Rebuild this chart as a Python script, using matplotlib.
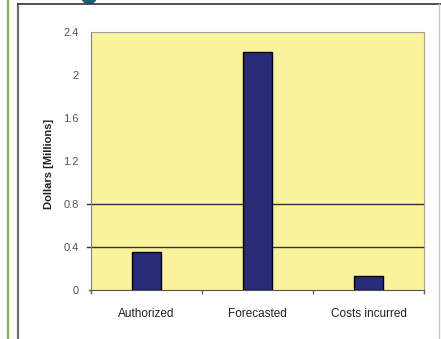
import matplotlib
matplotlib.use("Agg")
import matplotlib.pyplot as plt
from matplotlib.patches import Circle
from matplotlib.lines import Line2D

plt.rcParams['font.family'] = ['Liberation Sans', 'DejaVu Sans']

categories = ["Authorized", "Forecasted", "Costs incurred"]
values = [0.355, 2.21, 0.13]
yticks = [0, 0.4, 0.8, 1.2, 1.6, 2, 2.4]
ytick_labels = ["0", "0.4", "0.8", "1.2", "1.6", "2", "2.4"]
grid_levels = [0.4, 0.8]

fig = plt.figure(figsize=(4.41, 3.39), dpi=100)
fig.patch.set_facecolor("white")

# frame lines around the chart
fig.add_artist(Line2D([8/441, 8/441], [0, 1], color="#7cb342", lw=1.6))
fig.add_artist(Line2D([18/441, 18/441], [0, 1 - 4/339], color="#6d6d6d", lw=1.6))
fig.add_artist(Line2D([18/441, 1], [1 - 4/339, 1 - 4/339], color="#333333", lw=1.2))
fig.add_artist(Line2D([439/441, 439/441], [0, 1 - 4/339], color="#c8c8c8", lw=1.0))
fig.add_artist(Circle((89/441, 1 + 2/339), 7/441, transform=fig.transFigure,
                      color="#1f5f7a", clip_on=False))

ax = fig.add_axes([91/441, 49/339, 333/441, 258/339])
ax.set_facecolor("#faf39c")

x = range(len(categories))
ax.bar(x, values, width=0.27, color="#2a2b78", edgecolor="black", linewidth=1.0, zorder=3)

for g in grid_levels:
    ax.axhline(g, xmin=-0.012, xmax=1, color="#333333", lw=1.0, clip_on=False, zorder=2)

ax.set_xlim(-0.5, 2.5)
ax.set_ylim(0, 2.4)
ax.set_yticks(yticks)
ax.set_yticklabels(ytick_labels, color="#555555", fontsize=8)
ax.set_xticks(list(x))
ax.set_xticklabels(categories, fontsize=8.5, color="#222222")
ax.set_xticks([-0.5, 0.5, 1.5, 2.5], minor=True)
ax.tick_params(axis="y", length=0, pad=9)
ax.tick_params(axis="x", which="major", length=0, pad=13)
ax.tick_params(axis="x", which="minor", length=3, color="#666666", width=1)

for side in ["top", "right"]:
    ax.spines[side].set_color("#a0a0a0")
ax.spines["left"].set_color("#808080")
ax.spines["bottom"].set_color("#555555")
ax.plot([-0.52, -0.5], [0, 0], color="#555555", lw=1, clip_on=False)

ax.set_ylabel("Dollars [Millions]", fontsize=8, fontweight="bold", color="#222222")
ax.yaxis.set_label_coords(-0.11, 0.49)

fig.savefig("out.png", dpi=100)
